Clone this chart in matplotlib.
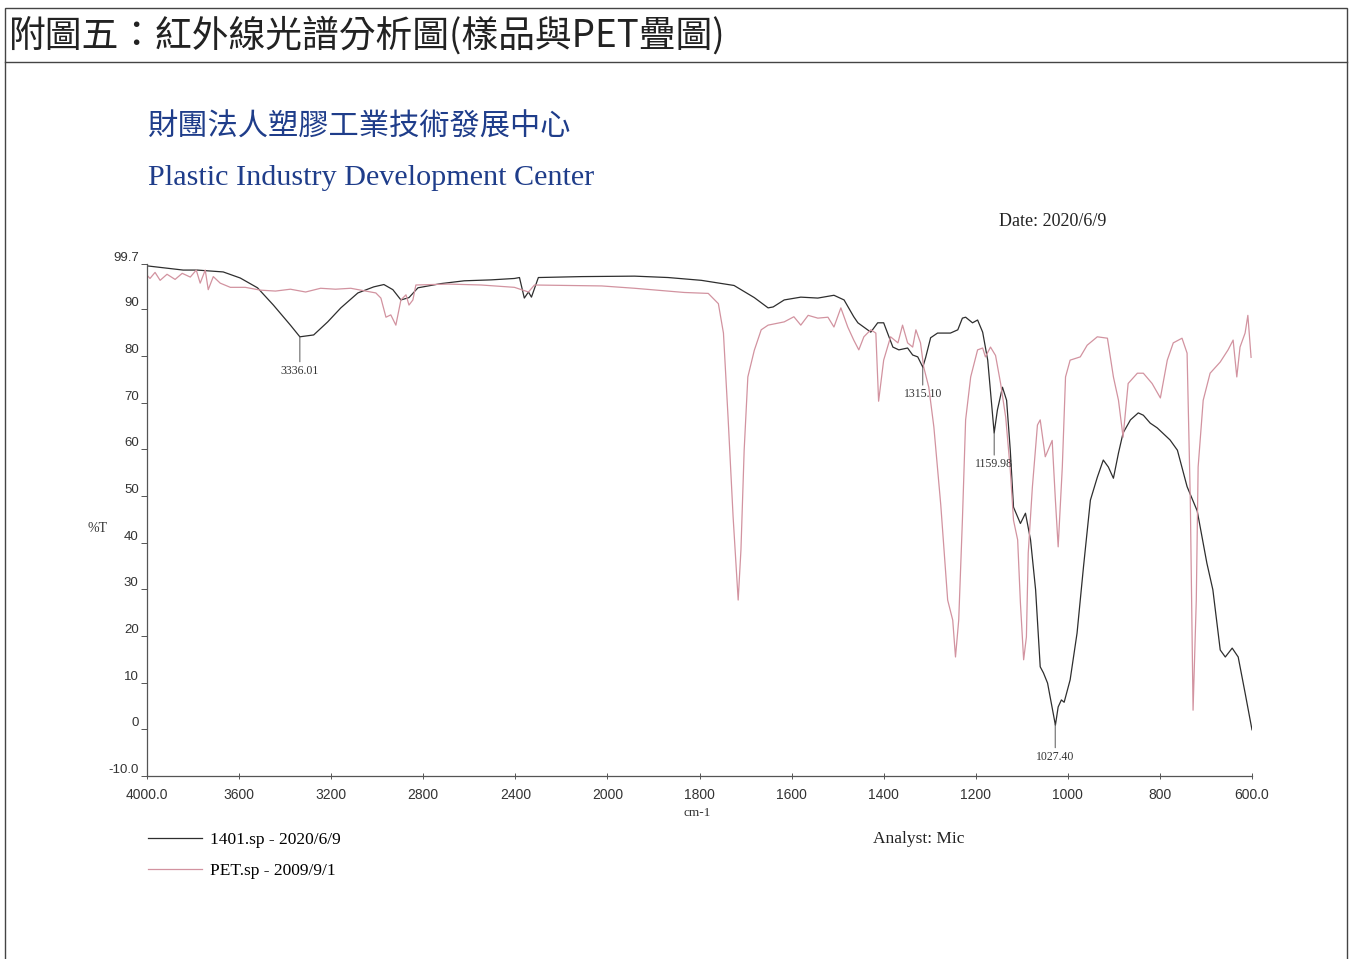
import numpy as np
import matplotlib
matplotlib.use("Agg")
import matplotlib.pyplot as plt
from matplotlib.patches import Rectangle
from matplotlib.lines import Line2D

plt.rcParams.update({
    "font.family": ["Liberation Serif", "Noto Sans CJK TC"],
    "axes.linewidth": 0.9,
})

# sample 1401.sp, wavenumber (cm-1) and %T
sample_wn = [4000, 3843, 3782, 3669, 3595, 3520, 3451, 3377, 3336, 3276, 3215, 3158, 3084, 3015,
             2971, 2932, 2897, 2862, 2823, 2723, 2622, 2505, 2404, 2382, 2361, 2343, 2330, 2300,
             2112, 1941, 1868, 1796, 1725, 1681, 1651, 1640, 1616, 1580, 1543, 1508, 1486, 1465,
             1456, 1428, 1413, 1400, 1380, 1367, 1348, 1337, 1326, 1315, 1309, 1298, 1283, 1255,
             1239, 1229, 1222, 1207, 1196, 1185, 1174, 1160, 1153, 1142, 1133, 1125, 1118, 1103,
             1092, 1081, 1070, 1060, 1053, 1044, 1027, 1021, 1014, 1008, 995, 980, 966, 951,
             936, 923, 912, 901, 890, 880, 864, 847, 836, 821, 806, 778, 762, 741, 719,
             698, 685, 669, 658, 643, 630, 615, 600]
sample_t = [99.3, 98.4, 98.4, 98.0, 96.7, 94.6, 90.9, 86.6, 84.1, 84.5, 87.3, 90.3, 93.5, 94.8,
            95.3, 94.2, 92.0, 92.5, 94.6, 95.5, 96.1, 96.3, 96.6, 96.8, 92.4, 93.7, 92.6, 96.8,
            97.0, 97.1, 96.8, 96.2, 95.1, 92.5, 90.3, 90.5, 92.0, 92.6, 92.4, 93.0, 92.0, 88.4,
            87.1, 85.1, 87.1, 87.1, 81.9, 81.3, 81.7, 80.2, 79.8, 77.6, 79.6, 83.9, 84.9, 84.9,
            85.6, 88.1, 88.3, 87.1, 87.7, 85.1, 79.1, 63.5, 68.4, 73.3, 70.5, 59.8, 47.6, 44.1,
            46.3, 40.6, 29.9, 13.4, 12.1, 9.9, 0.9, 4.8, 6.3, 5.8, 10.6, 20.6, 34.8, 49.1,
            54.0, 57.7, 56.2, 53.8, 59.2, 63.5, 66.3, 67.8, 67.3, 65.6, 64.6, 62.0, 59.8, 52.0, 46.8,
            35.6, 29.9, 17.0, 15.5, 17.4, 15.5, 7.8, -0.1]

# PET reference, PET.sp
pet_wn = [4000, 3987, 3965, 3943, 3913, 3878, 3847, 3812, 3786, 3769, 3747, 3734, 3712, 3682,
          3638, 3573, 3507, 3442, 3377, 3311, 3246, 3181, 3115, 3050, 3006, 2984, 2962, 2941,
          2919, 2897, 2875, 2862, 2845, 2832, 2692, 2548, 2404, 2343, 2317, 2025, 1941, 1833,
          1781, 1759, 1748, 1738, 1727, 1716, 1710, 1703, 1695, 1681, 1666, 1651, 1616, 1595,
          1580, 1564, 1543, 1521, 1508, 1493, 1478, 1465, 1454, 1443, 1428, 1417, 1411, 1400,
          1385, 1369, 1359, 1348, 1337, 1330, 1320, 1313, 1302, 1291, 1276, 1261, 1250, 1244,
          1237, 1229, 1222, 1211, 1196, 1185, 1179, 1168, 1157, 1146, 1135, 1125, 1118, 1109,
          1103, 1096, 1090, 1086, 1077, 1066, 1060, 1049, 1034, 1027, 1021, 1012, 1005, 995,
          973, 958, 936, 914, 901, 890, 880, 869, 849, 836, 817, 799, 784, 771, 752, 741,
          734, 728, 721, 717, 706, 691, 669, 652, 641, 633, 626, 615, 609, 602]
pet_t = [97.3, 96.6, 97.9, 96.2, 97.5, 96.4, 97.7, 96.9, 98.4, 95.6, 98.4, 94.2, 97.0, 95.6,
         94.7, 94.7, 94.1, 93.9, 94.3, 93.7, 94.5, 94.3, 94.5, 93.9, 93.5, 92.4, 88.3, 88.8,
         86.6, 92.0, 93.1, 90.9, 92.0, 95.2, 95.4, 95.2, 94.7, 93.7, 95.2, 95.0, 94.5, 93.6,
         93.4, 91.2, 84.9, 66.9, 45.5, 27.7, 38.4, 59.8, 75.5, 81.2, 85.6, 86.6, 87.3, 88.4,
         86.6, 88.7, 88.1, 88.3, 86.2, 90.3, 86.2, 83.4, 81.3, 84.1, 85.6, 84.9, 70.3, 79.1,
         84.1, 82.8, 86.6, 82.8, 81.9, 85.6, 82.8, 77.6, 73.3, 64.8, 48.1, 27.7, 23.4, 15.5,
         23.4, 44.8, 66.3, 75.5, 81.3, 81.7, 79.8, 81.9, 80.1, 74.1, 66.9, 55.6, 44.8, 40.6,
         27.1, 14.9, 19.8, 37.8, 51.9, 65.2, 66.3, 58.4, 61.9, 49.1, 39.1, 56.2, 75.5, 79.1,
         79.8, 82.3, 84.1, 83.8, 75.5, 70.5, 62.6, 74.1, 76.3, 76.3, 74.1, 71.0, 79.1, 82.8, 83.8, 80.6,
         49.1, 4.1, 27.7, 56.2, 70.5, 76.3, 78.7, 81.3, 83.4, 75.5, 81.9, 84.9, 88.7, 79.7]

peak_labels = [3336.01, 1315.10, 1159.98, 1027.40]
peak_drop_pt = [20, 15, 18, 19]

x_ticks = [4000, 3600, 3200, 2800, 2400, 2000, 1800, 1600, 1400, 1200, 1000, 800, 600]
x_tick_labels = ["4000.0", "3600", "3200", "2800", "2400", "2000", "1800", "1600",
                 "1400", "1200", "1000", "800", "600.0"]
y_ticks = [99.7, 90, 80, 70, 60, 50, 40, 30, 20, 10, 0, -10]
y_tick_labels = ["99.7", "90", "80", "70", "60", "50", "40", "30", "20", "10", "0", "-10.0"]

BLACK = "#2e2e2e"
PINK = "#d293a0"
NAVY = "#1f3d8a"


# spectrometer plots: above 2000 cm-1 the scale is compressed by half
def fwd(w):
    w = np.asarray(w, dtype=float)
    return np.where(w >= 2000, 2000 + (w - 2000) * 0.5, w)


def inv(u):
    u = np.asarray(u, dtype=float)
    return np.where(u >= 2000, 2000 + (u - 2000) * 2.0, u)


W, H = 1352, 959
fig = plt.figure(figsize=(W / 100, H / 100), dpi=100)


def fx(px):
    return px / W


def fy(py):
    return 1 - py / H


# page frame
fig.add_artist(Rectangle((fx(5), fy(1000)), fx(1347) - fx(5), fy(8) - fy(1000),
                         transform=fig.transFigure, fill=False, ec="#444444", lw=1.0))
fig.add_artist(Line2D([fx(5), fx(1347)], [fy(62), fy(62)], transform=fig.transFigure,
                      color="#444444", lw=1.0))
fig.text(fx(9), fy(36), "附圖五：紅外線光譜分析圖(樣品與PET疊圖)", family=["Noto Sans CJK TC"],
         fontsize=26.5, va="center", ha="left", color="#222222", fontweight="light")

fig.text(fx(147), fy(127), "財團法人塑膠工業技術發展中心", family=["Noto Sans CJK TC"],
         fontsize=21.8, va="center", ha="left", color=NAVY)
fig.text(fx(148), fy(178), "Plastic Industry Development Center", fontsize=21.7,
         va="center", ha="left", color=NAVY)
fig.text(fx(999), fy(222), "Date: 2020/6/9", fontsize=13, va="center", ha="left", color="#222222")

ax = fig.add_axes([fx(147), fy(776), fx(1252) - fx(147), fy(264) - fy(776)])
ax.set_xscale("function", functions=(fwd, inv))
ax.set_xlim(4000, 600)
ax.set_ylim(-10, 99.7)

l1, = ax.plot(sample_wn, sample_t, color=BLACK, lw=0.9)
l2, = ax.plot(pet_wn, pet_t, color=PINK, lw=0.9)

sw = np.array(sample_wn[::-1], dtype=float)
st = np.array(sample_t[::-1], dtype=float)
for pk, drop in zip(peak_labels, peak_drop_pt):
    t_pk = np.interp(pk, sw, st)
    ax.annotate(f"{pk:.2f}", xy=(pk, t_pk), xytext=(0, -drop), textcoords="offset points",
                ha="center", va="top", fontsize=8.5, color="#333333",
                arrowprops=dict(arrowstyle="-", color="#555555", lw=0.7, shrinkA=0, shrinkB=0))

ax.set_xticks(x_ticks)
ax.set_xticklabels(x_tick_labels, family="Liberation Sans", fontsize=10, color="#333333")
ax.set_yticks(y_ticks)
ax.set_yticklabels(y_tick_labels, family="Liberation Sans", fontsize=9.5, color="#333333")
ax.xaxis.set_minor_locator(matplotlib.ticker.NullLocator())
for lab in ax.get_yticklabels():
    lab.set_va("bottom")
ax.tick_params(axis="x", direction="inout", length=5, width=0.7, color="#555555", pad=6)
ax.tick_params(axis="y", direction="out", length=4, width=0.7, color="#555555", pad=2)
for side in ("top", "right"):
    ax.spines[side].set_visible(False)
for side in ("left", "bottom"):
    ax.spines[side].set_color("#555555")

fig.text(fx(98), fy(528), "%T", fontsize=10, va="center", ha="center", color="#333333")
fig.text(fx(697), fy(813), "cm-1", fontsize=9.5, va="center", ha="center", color="#333333")
fig.text(fx(873), fy(839), "Analyst: Mic", fontsize=12.5, va="center", ha="left", color="#222222")

fig.legend([l1, l2], ["1401.sp - 2020/6/9", "PET.sp - 2009/9/1"], loc="upper left",
           bbox_to_anchor=(fx(148), fy(832)), frameon=False, handlelength=3.1,
           handletextpad=0.45, labelspacing=0.85, borderpad=0, borderaxespad=0,
           prop={"family": "Liberation Serif", "size": 12.5})

fig.savefig("out.png", dpi=100, facecolor="white")
